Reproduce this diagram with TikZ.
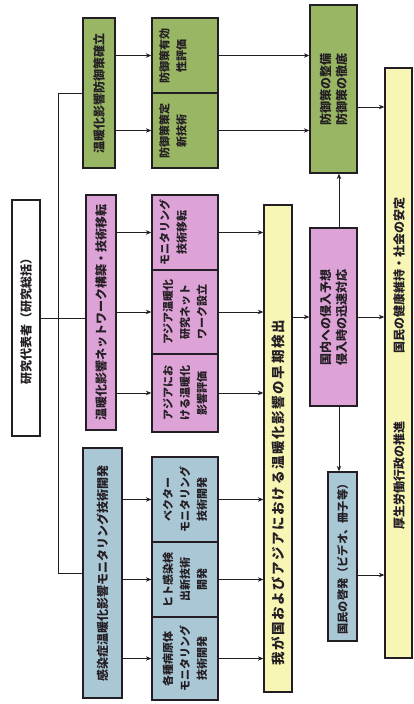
\documentclass[tikz,border=0pt]{standalone}
\usepackage{fontspec}
\setmainfont{Noto Sans CJK JP}
\usetikzlibrary{arrows.meta,fit}
\definecolor{cgreen}{RGB}{152,182,100}
\definecolor{cpink}{RGB}{221,163,214}
\definecolor{cblue}{RGB}{170,199,213}
\definecolor{cyel}{RGB}{247,246,180}
\definecolor{cline}{RGB}{35,30,35}
\begin{document}
\begin{tikzpicture}[x=1pt,y=-1pt,
  box/.style={draw=cline,line width=1.3pt,inner sep=0pt},
  txt/.style={rotate=90,font=\bfseries\fontsize{11}{17}\selectfont,align=center,inner sep=0pt,text=cline},
  big/.style={txt,font=\bfseries\fontsize{12}{16}\selectfont},
  conn/.style={draw=cline,line width=1pt},
  arr/.style={conn,-{Stealth[length=5.5pt,width=4.5pt]}}]
\fill[white] (0,0) rectangle (413,704);
\useasboundingbox (0,0) rectangle (413,704);
% leader box
\node[box,fill=white,fit={(12,200) (40,436)}] (wb) {};
\node[big] at (wb.center) {研究代表者（研究総括）};
% main group boxes
\node[box,fill=cgreen,fit={(83,18) (115,168)}] (gm) {};
\node[big] at (gm.center) {温暖化影響防御策確立};
\node[box,fill=cpink,fit={(86,195) (116,430)}] (pm) {};
\node[big] at (pm.center) {温暖化影響ネットワーク構築・技術移転};
\node[box,fill=cblue,fit={(83,448) (122,698)}] (bm) {};
\node[big] at (bm.center) {感染症温暖化影響モニタリング技術開発};
% sub boxes
\node[box,fill=cgreen,fit={(152,18) (218,93)}] (gs1) {};
\node[txt] at ([xshift=-12pt]gs1.center) {防御策有効\\性評価};
\node[box,fill=cgreen,fit={(152,93) (218,168)}] (gs2) {};
\node[txt] at ([xshift=-12pt]gs2.center) {防御策策定\\新技術};
\node[box,fill=cpink,fit={(152,195) (218,270)}] (ps1) {};
\node[txt] at ([xshift=-12pt]ps1.center) {モニタリング\\技術移転};
\node[box,fill=cpink,fit={(152,270) (218,354)}] (ps2) {};
\node[txt] at (ps2.center) {アジア温暖化\\研究ネット\\ワーク設立};
\node[box,fill=cpink,fit={(152,354) (218,432)}] (ps3) {};
\node[txt] at (ps3.center) {アジアにお\\ける温暖化\\影響評価};
\node[box,fill=cblue,fit={(152,457) (218,542)}] (bs1) {};
\node[txt] at (bs1.center) {ベクター\\モニタリング\\技術開発};
\node[box,fill=cblue,fit={(152,542) (218,617)}] (bs2) {};
\node[txt] at (bs2.center) {ヒト感染検\\出新技術\\開発};
\node[box,fill=cblue,fit={(152,617) (218,700)}] (bs3) {};
\node[txt] at (bs3.center) {各種病原体\\モニタリング\\技術開発};
% yellow early detection
\node[box,fill=cyel,fit={(264,205) (292,692)}] (yl) {};
\node[big,font=\bfseries\fontsize{13.5}{16}\selectfont\addfontfeature{LetterSpace=12}] at (278,493) {我が国およびアジアにおける温暖化影響の早期検出};
% right column
\node[box,fill=cgreen,fit={(310,5) (357,173)}] (gr) {};
\node[big] at (gr.center) {防御策の整備\\防御策の徹底};
\node[box,fill=cpink,fit={(310,228) (357,406)}] (pr) {};
\node[big] at (pr.center) {国内への侵入予想\\侵入時の迅速対応};
\node[box,fill=cblue,fit={(328,472) (357,641)}] (br) {};
\node[txt,font=\bfseries\fontsize{11.2}{16}\selectfont] at (br.center) {国民の啓発（ビデオ、冊子等）};
\node[box,fill=cyel,fit={(385,68) (412,658)}] (yr) {};
\node[big] (yrt1) at (399,275) {国民の健康維持・社会の安定};
\node[big] (yrt2) at (399,475) {厚生労働行政の推進};
% trunk
\coordinate (t1) at (58,93);
\coordinate (t2) at (58,573);
\draw[conn] (gm.west) -- (t1) -- (t2) -- (bm.west);
\draw[conn] (wb.east) -- (pm.west |- wb.east);
% main -> sub
\foreach \m/\s in {gm/gs1,gm/gs2,pm/ps1,pm/ps2,pm/ps3,bm/bs1,bm/bs2,bm/bs3}
  \draw[arr] (\m.east |- \s.west) -- (\s.west);
% sub -> yellow
\foreach \s in {ps1,ps2,ps3,bs1,bs2,bs3}
  \draw[arr] (\s.east) -- (yl.west |- \s.east);
% green subs -> right green
\foreach \s in {gs1,gs2}
  \draw[arr] (\s.east) -- (gr.west |- \s.east);
% yellow -> pink right
\draw[arr] (yl.east |- pr.west) -- (pr.west);
% vertical arrows
\coordinate (vx) at (339,0);
\draw[arr] (pr.north -| vx) -- (gr.south -| vx);
\draw[arr] (pr.south -| vx) -- (br.north -| vx);
% to right yellow
\coordinate (yA) at (0,107);
\coordinate (yB) at (0,575);
\draw[arr] (gr.east |- yA) -- (yr.west |- yA);
\draw[arr] (pr.east) -- (yr.west |- pr.east);
\draw[arr] (br.east |- yB) -- (yr.west |- yB);
\end{tikzpicture}
\end{document}
